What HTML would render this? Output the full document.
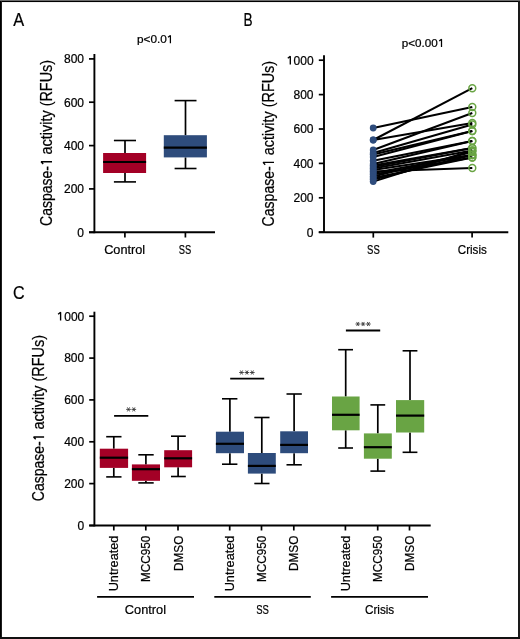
<!DOCTYPE html>
<html><head><meta charset="utf-8"><style>
html,body{margin:0;padding:0;background:#fff;}
body{width:520px;height:639px;overflow:hidden;position:relative;}
svg{position:absolute;left:0;top:0;will-change:transform;}
text{font-family:"Liberation Sans",sans-serif;fill:#000;stroke:#000;stroke-width:0.22px;}
</style></head><body>
<svg width="520" height="639" viewBox="0 0 520 639">
<rect x="0" y="0" width="520" height="639" fill="#fff"/>
<rect x="0" y="0" width="520" height="1" fill="#6c6c6c"/>
<rect x="0" y="1" width="520" height="1" fill="#000"/>
<rect x="0" y="2" width="520" height="1" fill="#f0f0f0"/>
<rect x="0" y="1" width="1" height="638" fill="#000"/>
<rect x="1" y="1" width="1" height="638" fill="#1e1e1e"/>
<rect x="518" y="1" width="2" height="638" fill="#1a1a1a"/>
<rect x="0" y="637" width="520" height="2" fill="#111"/>
<text x="13.2" y="26.2" font-size="18.4" text-anchor="start" textLength="10.9" lengthAdjust="spacingAndGlyphs">A</text>
<text x="137.0" y="43.2" font-size="11" text-anchor="start" textLength="29.9" lengthAdjust="spacingAndGlyphs">p&lt;0.0</text>
<path d="M168.0,37.3 L170.4,35.6 L170.4,43.3" fill="none" stroke="#000" stroke-width="1.25" stroke-linejoin="bevel"/>
<text transform="translate(52,0) rotate(-90)" x="-226.01" font-size="16.4" textLength="60.04" lengthAdjust="spacingAndGlyphs">Caspase-</text>
<text transform="translate(52,0) rotate(-90)" x="-154.41" font-size="16.4" textLength="94.51" lengthAdjust="spacingAndGlyphs">activity (RFUs)</text>
<path transform="translate(52,0) rotate(-90)" d="M-164.00,-8.80 L-161.70,-10.9 L-161.70,0" fill="none" stroke="#000" stroke-width="1.35" stroke-linejoin="bevel"/>
<line x1="89" y1="232.3" x2="94.4" y2="232.3" stroke="#000" stroke-width="1.7"/>
<text x="84" y="236.60000000000002" font-size="12" text-anchor="end">0</text>
<line x1="89" y1="188.9" x2="94.4" y2="188.9" stroke="#000" stroke-width="1.7"/>
<text x="84" y="193.20000000000002" font-size="12" text-anchor="end">200</text>
<line x1="89" y1="145.6" x2="94.4" y2="145.6" stroke="#000" stroke-width="1.7"/>
<text x="84" y="149.9" font-size="12" text-anchor="end">400</text>
<line x1="89" y1="102.2" x2="94.4" y2="102.2" stroke="#000" stroke-width="1.7"/>
<text x="84" y="106.5" font-size="12" text-anchor="end">600</text>
<line x1="89" y1="58.9" x2="94.4" y2="58.9" stroke="#000" stroke-width="1.7"/>
<text x="84" y="63.199999999999996" font-size="12" text-anchor="end">800</text>
<line x1="94.4" y1="54" x2="94.4" y2="233.2" stroke="#000" stroke-width="1.9"/>
<line x1="89" y1="232.3" x2="215" y2="232.3" stroke="#000" stroke-width="1.9"/>
<line x1="124.9" y1="232.3" x2="124.9" y2="237.5" stroke="#000" stroke-width="1.7"/>
<line x1="185.4" y1="232.3" x2="185.4" y2="237.5" stroke="#000" stroke-width="1.7"/>
<text x="124.7" y="254.2" font-size="13.3" text-anchor="middle" textLength="41" lengthAdjust="spacingAndGlyphs">Control</text>
<text x="185.1" y="254.2" font-size="13.3" text-anchor="middle" textLength="12.5" lengthAdjust="spacingAndGlyphs">SS</text>
<line x1="125" y1="140.5" x2="125" y2="153" stroke="#000" stroke-width="1.7"/>
<line x1="125" y1="173" x2="125" y2="181.9" stroke="#000" stroke-width="1.7"/>
<line x1="113.9" y1="140.5" x2="136" y2="140.5" stroke="#000" stroke-width="1.6"/>
<line x1="113.9" y1="181.9" x2="136" y2="181.9" stroke="#000" stroke-width="1.6"/>
<rect x="103.1" y="153" width="43.0" height="20" fill="#A30026"/>
<line x1="103.1" y1="162" x2="146.1" y2="162" stroke="#000" stroke-width="2.2"/>
<line x1="185.5" y1="100.6" x2="185.5" y2="135.2" stroke="#000" stroke-width="1.7"/>
<line x1="185.5" y1="157.4" x2="185.5" y2="168.5" stroke="#000" stroke-width="1.7"/>
<line x1="174.6" y1="100.6" x2="196.5" y2="100.6" stroke="#000" stroke-width="1.6"/>
<line x1="174.6" y1="168.5" x2="196.5" y2="168.5" stroke="#000" stroke-width="1.6"/>
<rect x="163.8" y="135.2" width="43.099999999999994" height="22.200000000000017" fill="#2E4C7C"/>
<line x1="163.8" y1="147.7" x2="206.9" y2="147.7" stroke="#000" stroke-width="2.2"/>
<text x="243.6" y="26.2" font-size="18.4" text-anchor="start" textLength="9.1" lengthAdjust="spacingAndGlyphs">B</text>
<text x="401.8" y="46.7" font-size="11" text-anchor="start" textLength="36.0" lengthAdjust="spacingAndGlyphs">p&lt;0.00</text>
<path d="M439.2,41.0 L441.5,39.3 L441.5,47.0" fill="none" stroke="#000" stroke-width="1.25" stroke-linejoin="bevel"/>
<text transform="translate(274,0) rotate(-90)" x="-226.41" font-size="16.4" textLength="60.14" lengthAdjust="spacingAndGlyphs">Caspase-</text>
<text transform="translate(274,0) rotate(-90)" x="-155.21" font-size="16.4" textLength="94.30" lengthAdjust="spacingAndGlyphs">activity (RFUs)</text>
<path transform="translate(274,0) rotate(-90)" d="M-164.70,-8.80 L-162.40,-10.9 L-162.40,0" fill="none" stroke="#000" stroke-width="1.35" stroke-linejoin="bevel"/>
<line x1="318.8" y1="232.2" x2="324" y2="232.2" stroke="#000" stroke-width="1.7"/>
<text x="313.5" y="236.5" font-size="12" text-anchor="end">0</text>
<line x1="318.8" y1="197.8" x2="324" y2="197.8" stroke="#000" stroke-width="1.7"/>
<text x="313.5" y="202.10000000000002" font-size="12" text-anchor="end">200</text>
<line x1="318.8" y1="163.4" x2="324" y2="163.4" stroke="#000" stroke-width="1.7"/>
<text x="313.5" y="167.70000000000002" font-size="12" text-anchor="end">400</text>
<line x1="318.8" y1="129.0" x2="324" y2="129.0" stroke="#000" stroke-width="1.7"/>
<text x="313.5" y="133.3" font-size="12" text-anchor="end">600</text>
<line x1="318.8" y1="94.6" x2="324" y2="94.6" stroke="#000" stroke-width="1.7"/>
<text x="313.5" y="98.89999999999999" font-size="12" text-anchor="end">800</text>
<line x1="318.8" y1="60.2" x2="324" y2="60.2" stroke="#000" stroke-width="1.7"/>
<text x="313.6" y="64.5" font-size="12" text-anchor="end">000</text>
<path d="M287.8,58.300000000000004 L290.3,56.300000000000004 L290.3,64.5" fill="none" stroke="#000" stroke-width="1.35" stroke-linejoin="bevel"/>
<line x1="324" y1="55.2" x2="324" y2="233.1" stroke="#000" stroke-width="1.9"/>
<line x1="318.8" y1="232.2" x2="508.3" y2="232.2" stroke="#000" stroke-width="1.9"/>
<line x1="373.3" y1="232.2" x2="373.3" y2="237.6" stroke="#000" stroke-width="1.7"/>
<line x1="472.1" y1="232.2" x2="472.1" y2="237.6" stroke="#000" stroke-width="1.7"/>
<text x="373.4" y="253.8" font-size="13.3" text-anchor="middle" textLength="12.7" lengthAdjust="spacingAndGlyphs">SS</text>
<text x="472.3" y="253.8" font-size="13.3" text-anchor="middle" textLength="29" lengthAdjust="spacingAndGlyphs">Crisis</text>
<line x1="373.2" y1="128" x2="472.3" y2="107" stroke="#000" stroke-width="2.0"/>
<line x1="373.2" y1="140" x2="472.3" y2="88.2" stroke="#000" stroke-width="2.0"/>
<line x1="373.2" y1="140" x2="472.3" y2="123" stroke="#000" stroke-width="2.0"/>
<line x1="373.2" y1="150" x2="472.3" y2="113" stroke="#000" stroke-width="2.0"/>
<line x1="373.2" y1="153" x2="472.3" y2="124.5" stroke="#000" stroke-width="2.0"/>
<line x1="373.2" y1="154.5" x2="472.3" y2="131" stroke="#000" stroke-width="2.0"/>
<line x1="373.2" y1="157" x2="472.3" y2="131" stroke="#000" stroke-width="2.0"/>
<line x1="373.2" y1="160.7" x2="472.3" y2="141" stroke="#000" stroke-width="2.0"/>
<line x1="373.2" y1="164" x2="472.3" y2="141" stroke="#000" stroke-width="2.0"/>
<line x1="373.2" y1="165.5" x2="472.3" y2="148" stroke="#000" stroke-width="2.0"/>
<line x1="373.2" y1="167" x2="472.3" y2="148" stroke="#000" stroke-width="2.0"/>
<line x1="373.2" y1="168.5" x2="472.3" y2="150.5" stroke="#000" stroke-width="2.0"/>
<line x1="373.2" y1="170" x2="472.3" y2="155" stroke="#000" stroke-width="2.0"/>
<line x1="373.2" y1="171.5" x2="472.3" y2="168" stroke="#000" stroke-width="2.0"/>
<line x1="373.2" y1="173" x2="472.3" y2="155" stroke="#000" stroke-width="2.0"/>
<line x1="373.2" y1="174.5" x2="472.3" y2="157.5" stroke="#000" stroke-width="2.0"/>
<line x1="373.2" y1="176.5" x2="472.3" y2="152" stroke="#000" stroke-width="2.0"/>
<line x1="373.2" y1="178" x2="472.3" y2="157.5" stroke="#000" stroke-width="2.0"/>
<line x1="373.2" y1="179.5" x2="472.3" y2="155" stroke="#000" stroke-width="2.0"/>
<line x1="373.2" y1="181.6" x2="472.3" y2="150.5" stroke="#000" stroke-width="2.0"/>
<circle cx="373.2" cy="128" r="3.4" fill="#2E4C7C"/>
<circle cx="373.2" cy="140" r="3.4" fill="#2E4C7C"/>
<circle cx="373.2" cy="140" r="3.4" fill="#2E4C7C"/>
<circle cx="373.2" cy="150" r="3.4" fill="#2E4C7C"/>
<circle cx="373.2" cy="153" r="3.4" fill="#2E4C7C"/>
<circle cx="373.2" cy="154.5" r="3.4" fill="#2E4C7C"/>
<circle cx="373.2" cy="157" r="3.4" fill="#2E4C7C"/>
<circle cx="373.2" cy="160.7" r="3.4" fill="#2E4C7C"/>
<circle cx="373.2" cy="164" r="3.4" fill="#2E4C7C"/>
<circle cx="373.2" cy="165.5" r="3.4" fill="#2E4C7C"/>
<circle cx="373.2" cy="167" r="3.4" fill="#2E4C7C"/>
<circle cx="373.2" cy="168.5" r="3.4" fill="#2E4C7C"/>
<circle cx="373.2" cy="170" r="3.4" fill="#2E4C7C"/>
<circle cx="373.2" cy="171.5" r="3.4" fill="#2E4C7C"/>
<circle cx="373.2" cy="173" r="3.4" fill="#2E4C7C"/>
<circle cx="373.2" cy="174.5" r="3.4" fill="#2E4C7C"/>
<circle cx="373.2" cy="176.5" r="3.4" fill="#2E4C7C"/>
<circle cx="373.2" cy="178" r="3.4" fill="#2E4C7C"/>
<circle cx="373.2" cy="179.5" r="3.4" fill="#2E4C7C"/>
<circle cx="373.2" cy="181.6" r="3.4" fill="#2E4C7C"/>
<circle cx="472.3" cy="107" r="3.45" fill="none" stroke="#69A444" stroke-width="1.5"/>
<circle cx="472.3" cy="88.2" r="3.45" fill="none" stroke="#69A444" stroke-width="1.5"/>
<circle cx="472.3" cy="123" r="3.45" fill="none" stroke="#69A444" stroke-width="1.5"/>
<circle cx="472.3" cy="113" r="3.45" fill="none" stroke="#69A444" stroke-width="1.5"/>
<circle cx="472.3" cy="124.5" r="3.45" fill="none" stroke="#69A444" stroke-width="1.5"/>
<circle cx="472.3" cy="131" r="3.45" fill="none" stroke="#69A444" stroke-width="1.5"/>
<circle cx="472.3" cy="131" r="3.45" fill="none" stroke="#69A444" stroke-width="1.5"/>
<circle cx="472.3" cy="141" r="3.45" fill="none" stroke="#69A444" stroke-width="1.5"/>
<circle cx="472.3" cy="141" r="3.45" fill="none" stroke="#69A444" stroke-width="1.5"/>
<circle cx="472.3" cy="148" r="3.45" fill="none" stroke="#69A444" stroke-width="1.5"/>
<circle cx="472.3" cy="148" r="3.45" fill="none" stroke="#69A444" stroke-width="1.5"/>
<circle cx="472.3" cy="150.5" r="3.45" fill="none" stroke="#69A444" stroke-width="1.5"/>
<circle cx="472.3" cy="155" r="3.45" fill="none" stroke="#69A444" stroke-width="1.5"/>
<circle cx="472.3" cy="168" r="3.45" fill="none" stroke="#69A444" stroke-width="1.5"/>
<circle cx="472.3" cy="155" r="3.45" fill="none" stroke="#69A444" stroke-width="1.5"/>
<circle cx="472.3" cy="157.5" r="3.45" fill="none" stroke="#69A444" stroke-width="1.5"/>
<circle cx="472.3" cy="152" r="3.45" fill="none" stroke="#69A444" stroke-width="1.5"/>
<circle cx="472.3" cy="157.5" r="3.45" fill="none" stroke="#69A444" stroke-width="1.5"/>
<circle cx="472.3" cy="155" r="3.45" fill="none" stroke="#69A444" stroke-width="1.5"/>
<circle cx="472.3" cy="150.5" r="3.45" fill="none" stroke="#69A444" stroke-width="1.5"/>
<text x="13.0" y="299.2" font-size="18.4" text-anchor="start" textLength="11.6" lengthAdjust="spacingAndGlyphs">C</text>
<text transform="translate(44.1,0) rotate(-90)" x="-501.21" font-size="16.2" textLength="59.93" lengthAdjust="spacingAndGlyphs">Caspase-</text>
<text transform="translate(44.1,0) rotate(-90)" x="-429.61" font-size="16.2" textLength="94.71" lengthAdjust="spacingAndGlyphs">activity (RFUs)</text>
<path transform="translate(44.1,0) rotate(-90)" d="M-439.30,-8.40 L-437.00,-10.5 L-437.00,0" fill="none" stroke="#000" stroke-width="1.35" stroke-linejoin="bevel"/>
<line x1="89.2" y1="525.5" x2="94.4" y2="525.5" stroke="#000" stroke-width="1.7"/>
<text x="84.2" y="529.8" font-size="12" text-anchor="end">0</text>
<line x1="89.2" y1="483.6" x2="94.4" y2="483.6" stroke="#000" stroke-width="1.7"/>
<text x="84.2" y="487.90000000000003" font-size="12" text-anchor="end">200</text>
<line x1="89.2" y1="441.8" x2="94.4" y2="441.8" stroke="#000" stroke-width="1.7"/>
<text x="84.2" y="446.1" font-size="12" text-anchor="end">400</text>
<line x1="89.2" y1="399.9" x2="94.4" y2="399.9" stroke="#000" stroke-width="1.7"/>
<text x="84.2" y="404.2" font-size="12" text-anchor="end">600</text>
<line x1="89.2" y1="358.1" x2="94.4" y2="358.1" stroke="#000" stroke-width="1.7"/>
<text x="84.2" y="362.40000000000003" font-size="12" text-anchor="end">800</text>
<line x1="89.2" y1="316.2" x2="94.4" y2="316.2" stroke="#000" stroke-width="1.7"/>
<text x="84.3" y="320.5" font-size="12" text-anchor="end">000</text>
<path d="M58.1,314.3 L60.6,312.3 L60.6,320.5" fill="none" stroke="#000" stroke-width="1.35" stroke-linejoin="bevel"/>
<line x1="94.4" y1="311.7" x2="94.4" y2="526.4" stroke="#000" stroke-width="1.9"/>
<line x1="89.2" y1="525.5" x2="430.7" y2="525.5" stroke="#000" stroke-width="1.9"/>
<line x1="113.8" y1="525.5" x2="113.8" y2="530.5" stroke="#000" stroke-width="1.7"/>
<line x1="145.8" y1="525.5" x2="145.8" y2="530.5" stroke="#000" stroke-width="1.7"/>
<line x1="178.0" y1="525.5" x2="178.0" y2="530.5" stroke="#000" stroke-width="1.7"/>
<line x1="229.7" y1="525.5" x2="229.7" y2="530.5" stroke="#000" stroke-width="1.7"/>
<line x1="261.5" y1="525.5" x2="261.5" y2="530.5" stroke="#000" stroke-width="1.7"/>
<line x1="293.8" y1="525.5" x2="293.8" y2="530.5" stroke="#000" stroke-width="1.7"/>
<line x1="345.4" y1="525.5" x2="345.4" y2="530.5" stroke="#000" stroke-width="1.7"/>
<line x1="377.7" y1="525.5" x2="377.7" y2="530.5" stroke="#000" stroke-width="1.7"/>
<line x1="409.5" y1="525.5" x2="409.5" y2="530.5" stroke="#000" stroke-width="1.7"/>
<text transform="translate(118.39999999999999,535.7) rotate(-90)" font-size="13" text-anchor="end" textLength="55.6" lengthAdjust="spacingAndGlyphs">Untreated</text>
<text transform="translate(150.4,535.7) rotate(-90)" font-size="13" text-anchor="end" textLength="46.4" lengthAdjust="spacingAndGlyphs">MCC950</text>
<text transform="translate(182.6,535.7) rotate(-90)" font-size="13" text-anchor="end" textLength="35.3" lengthAdjust="spacingAndGlyphs">DMSO</text>
<text transform="translate(234.29999999999998,535.7) rotate(-90)" font-size="13" text-anchor="end" textLength="55.6" lengthAdjust="spacingAndGlyphs">Untreated</text>
<text transform="translate(266.1,535.7) rotate(-90)" font-size="13" text-anchor="end" textLength="46.4" lengthAdjust="spacingAndGlyphs">MCC950</text>
<text transform="translate(298.40000000000003,535.7) rotate(-90)" font-size="13" text-anchor="end" textLength="35.3" lengthAdjust="spacingAndGlyphs">DMSO</text>
<text transform="translate(350.0,535.7) rotate(-90)" font-size="13" text-anchor="end" textLength="55.6" lengthAdjust="spacingAndGlyphs">Untreated</text>
<text transform="translate(382.3,535.7) rotate(-90)" font-size="13" text-anchor="end" textLength="46.4" lengthAdjust="spacingAndGlyphs">MCC950</text>
<text transform="translate(414.1,535.7) rotate(-90)" font-size="13" text-anchor="end" textLength="35.3" lengthAdjust="spacingAndGlyphs">DMSO</text>
<line x1="113.8" y1="436.7" x2="113.8" y2="448.7" stroke="#000" stroke-width="1.7"/>
<line x1="113.8" y1="467.9" x2="113.8" y2="476.9" stroke="#000" stroke-width="1.7"/>
<line x1="106.2" y1="436.7" x2="121.5" y2="436.7" stroke="#000" stroke-width="1.6"/>
<line x1="106.2" y1="476.9" x2="121.5" y2="476.9" stroke="#000" stroke-width="1.6"/>
<rect x="99.8" y="448.7" width="28.299999999999997" height="19.19999999999999" fill="#A30026"/>
<line x1="99.8" y1="457.7" x2="128.1" y2="457.7" stroke="#000" stroke-width="2.2"/>
<line x1="145.9" y1="454.8" x2="145.9" y2="464.4" stroke="#000" stroke-width="1.7"/>
<line x1="145.9" y1="480.8" x2="145.9" y2="482.9" stroke="#000" stroke-width="1.7"/>
<line x1="138.3" y1="454.8" x2="153.7" y2="454.8" stroke="#000" stroke-width="1.6"/>
<line x1="138.3" y1="482.9" x2="153.7" y2="482.9" stroke="#000" stroke-width="1.6"/>
<rect x="131.9" y="464.4" width="28.099999999999994" height="16.400000000000034" fill="#A30026"/>
<line x1="131.9" y1="469.2" x2="160.0" y2="469.2" stroke="#000" stroke-width="2.2"/>
<line x1="178.1" y1="436.2" x2="178.1" y2="450.2" stroke="#000" stroke-width="1.7"/>
<line x1="178.1" y1="467.3" x2="178.1" y2="476.5" stroke="#000" stroke-width="1.7"/>
<line x1="171.0" y1="436.2" x2="185.8" y2="436.2" stroke="#000" stroke-width="1.6"/>
<line x1="171.0" y1="476.5" x2="185.8" y2="476.5" stroke="#000" stroke-width="1.6"/>
<rect x="164.2" y="450.2" width="27.900000000000006" height="17.100000000000023" fill="#A30026"/>
<line x1="164.2" y1="458.3" x2="192.1" y2="458.3" stroke="#000" stroke-width="2.2"/>
<line x1="229.9" y1="398.8" x2="229.9" y2="431.7" stroke="#000" stroke-width="1.7"/>
<line x1="229.9" y1="453.2" x2="229.9" y2="464.2" stroke="#000" stroke-width="1.7"/>
<line x1="222.0" y1="398.8" x2="237.4" y2="398.8" stroke="#000" stroke-width="1.6"/>
<line x1="222.0" y1="464.2" x2="237.4" y2="464.2" stroke="#000" stroke-width="1.6"/>
<rect x="215.9" y="431.7" width="28.099999999999994" height="21.5" fill="#2E4C7C"/>
<line x1="215.9" y1="443.8" x2="244.0" y2="443.8" stroke="#000" stroke-width="2.2"/>
<line x1="261.8" y1="417.5" x2="261.8" y2="453.0" stroke="#000" stroke-width="1.7"/>
<line x1="261.8" y1="473.6" x2="261.8" y2="483.5" stroke="#000" stroke-width="1.7"/>
<line x1="254.3" y1="417.5" x2="269.5" y2="417.5" stroke="#000" stroke-width="1.6"/>
<line x1="254.3" y1="483.5" x2="269.5" y2="483.5" stroke="#000" stroke-width="1.6"/>
<rect x="247.9" y="453.0" width="27.900000000000006" height="20.600000000000023" fill="#2E4C7C"/>
<line x1="247.9" y1="465.9" x2="275.8" y2="465.9" stroke="#000" stroke-width="2.2"/>
<line x1="294.1" y1="394.0" x2="294.1" y2="431.3" stroke="#000" stroke-width="1.7"/>
<line x1="294.1" y1="453.2" x2="294.1" y2="464.8" stroke="#000" stroke-width="1.7"/>
<line x1="286.5" y1="394.0" x2="301.8" y2="394.0" stroke="#000" stroke-width="1.6"/>
<line x1="286.5" y1="464.8" x2="301.8" y2="464.8" stroke="#000" stroke-width="1.6"/>
<rect x="280.2" y="431.3" width="27.80000000000001" height="21.899999999999977" fill="#2E4C7C"/>
<line x1="280.2" y1="444.9" x2="308.0" y2="444.9" stroke="#000" stroke-width="2.2"/>
<line x1="345.7" y1="349.7" x2="345.7" y2="396.5" stroke="#000" stroke-width="1.7"/>
<line x1="345.7" y1="430.3" x2="345.7" y2="448.0" stroke="#000" stroke-width="1.7"/>
<line x1="338.2" y1="349.7" x2="353.0" y2="349.7" stroke="#000" stroke-width="1.6"/>
<line x1="338.2" y1="448.0" x2="353.0" y2="448.0" stroke="#000" stroke-width="1.6"/>
<rect x="332.0" y="396.5" width="27.600000000000023" height="33.80000000000001" fill="#69A444"/>
<line x1="332.0" y1="414.8" x2="359.6" y2="414.8" stroke="#000" stroke-width="2.2"/>
<line x1="377.8" y1="404.9" x2="377.8" y2="433.4" stroke="#000" stroke-width="1.7"/>
<line x1="377.8" y1="458.7" x2="377.8" y2="471.1" stroke="#000" stroke-width="1.7"/>
<line x1="370.4" y1="404.9" x2="385.2" y2="404.9" stroke="#000" stroke-width="1.6"/>
<line x1="370.4" y1="471.1" x2="385.2" y2="471.1" stroke="#000" stroke-width="1.6"/>
<rect x="363.9" y="433.4" width="27.900000000000034" height="25.30000000000001" fill="#69A444"/>
<line x1="363.9" y1="447.2" x2="391.8" y2="447.2" stroke="#000" stroke-width="2.2"/>
<line x1="410.0" y1="350.8" x2="410.0" y2="400.1" stroke="#000" stroke-width="1.7"/>
<line x1="410.0" y1="432.5" x2="410.0" y2="452.3" stroke="#000" stroke-width="1.7"/>
<line x1="402.6" y1="350.8" x2="417.4" y2="350.8" stroke="#000" stroke-width="1.6"/>
<line x1="402.6" y1="452.3" x2="417.4" y2="452.3" stroke="#000" stroke-width="1.6"/>
<rect x="396.0" y="400.1" width="28.19999999999999" height="32.39999999999998" fill="#69A444"/>
<line x1="396.0" y1="415.6" x2="424.2" y2="415.6" stroke="#000" stroke-width="2.2"/>
<line x1="114.1" y1="415.9" x2="148.3" y2="415.9" stroke="#000" stroke-width="1.8"/>
<line x1="126.15" y1="409.4" x2="130.85" y2="409.4" stroke="#333" stroke-width="0.85"/>
<line x1="127.33" y1="407.36" x2="129.68" y2="411.44" stroke="#333" stroke-width="0.85"/>
<line x1="129.68" y1="407.36" x2="127.33" y2="411.44" stroke="#333" stroke-width="0.85"/>
<line x1="131.45" y1="409.4" x2="136.15" y2="409.4" stroke="#333" stroke-width="0.85"/>
<line x1="132.62" y1="407.36" x2="134.98" y2="411.44" stroke="#333" stroke-width="0.85"/>
<line x1="134.98" y1="407.36" x2="132.62" y2="411.44" stroke="#333" stroke-width="0.85"/>
<line x1="230.2" y1="378.6" x2="264.2" y2="378.6" stroke="#000" stroke-width="1.8"/>
<line x1="239.15" y1="372.5" x2="243.85" y2="372.5" stroke="#333" stroke-width="0.85"/>
<line x1="240.32" y1="370.46" x2="242.68" y2="374.54" stroke="#333" stroke-width="0.85"/>
<line x1="242.68" y1="370.46" x2="240.32" y2="374.54" stroke="#333" stroke-width="0.85"/>
<line x1="244.55" y1="372.5" x2="249.25" y2="372.5" stroke="#333" stroke-width="0.85"/>
<line x1="245.72" y1="370.46" x2="248.08" y2="374.54" stroke="#333" stroke-width="0.85"/>
<line x1="248.08" y1="370.46" x2="245.72" y2="374.54" stroke="#333" stroke-width="0.85"/>
<line x1="249.95" y1="372.5" x2="254.65" y2="372.5" stroke="#333" stroke-width="0.85"/>
<line x1="251.12" y1="370.46" x2="253.48" y2="374.54" stroke="#333" stroke-width="0.85"/>
<line x1="253.48" y1="370.46" x2="251.12" y2="374.54" stroke="#333" stroke-width="0.85"/>
<line x1="345.9" y1="330.5" x2="380.2" y2="330.5" stroke="#000" stroke-width="1.8"/>
<line x1="355.45" y1="324.0" x2="360.15" y2="324.0" stroke="#333" stroke-width="0.85"/>
<line x1="356.62" y1="321.96" x2="358.98" y2="326.04" stroke="#333" stroke-width="0.85"/>
<line x1="358.98" y1="321.96" x2="356.62" y2="326.04" stroke="#333" stroke-width="0.85"/>
<line x1="360.75" y1="324.0" x2="365.45" y2="324.0" stroke="#333" stroke-width="0.85"/>
<line x1="361.93" y1="321.96" x2="364.28" y2="326.04" stroke="#333" stroke-width="0.85"/>
<line x1="364.28" y1="321.96" x2="361.93" y2="326.04" stroke="#333" stroke-width="0.85"/>
<line x1="366.05" y1="324.0" x2="370.75" y2="324.0" stroke="#333" stroke-width="0.85"/>
<line x1="367.22" y1="321.96" x2="369.57" y2="326.04" stroke="#333" stroke-width="0.85"/>
<line x1="369.57" y1="321.96" x2="367.22" y2="326.04" stroke="#333" stroke-width="0.85"/>
<line x1="97.1" y1="596.8" x2="194" y2="596.8" stroke="#000" stroke-width="1.7"/>
<line x1="214.3" y1="596.8" x2="310.8" y2="596.8" stroke="#000" stroke-width="1.7"/>
<line x1="331.1" y1="596.8" x2="428" y2="596.8" stroke="#000" stroke-width="1.7"/>
<text x="145.4" y="613.5" font-size="13.3" text-anchor="middle" textLength="41.2" lengthAdjust="spacingAndGlyphs">Control</text>
<text x="262.5" y="613.7" font-size="13.3" text-anchor="middle" textLength="12.7" lengthAdjust="spacingAndGlyphs">SS</text>
<text x="379.6" y="613.7" font-size="13.3" text-anchor="middle" textLength="29.3" lengthAdjust="spacingAndGlyphs">Crisis</text>
</svg>
</body></html>
